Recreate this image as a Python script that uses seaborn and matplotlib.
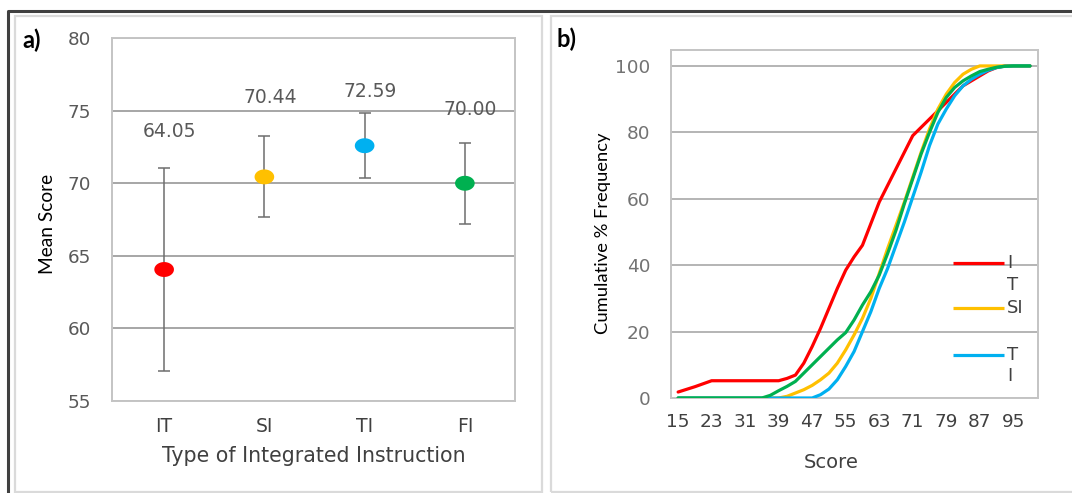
import numpy as np
import pandas as pd
import matplotlib
matplotlib.use("Agg")
import matplotlib.pyplot as plt
from matplotlib.lines import Line2D
from matplotlib.patches import Rectangle
from matplotlib.path import Path
import seaborn as sns

# ---- Panel a: mean score by type of integrated instruction ----
instruction_types = ["IT", "SI", "TI", "FI"]
mean_scores = [64.05, 70.44, 72.59, 70.00]
score_errors = [7.0, 2.8, 2.25, 2.8]
group_colors = ["#FF0000", "#FFC000", "#00B0F0", "#00B050"]

# ---- Panel b: cumulative % frequency of scores ----
scores = list(range(15, 100, 2))
cum_it = [1.8, 2.6, 3.4, 4.3, 5.2, 5.2, 5.2, 5.2, 5.2, 5.2, 5.2, 5.2, 5.2,
          5.9, 6.9, 10.5, 15.5, 21, 27, 33, 38.5, 42.5, 46, 52.5, 59, 64,
          69, 74, 79, 81.5, 84, 86.5, 89, 91.5, 94, 95.5, 97, 98.5, 99.5,
          100, 100, 100, 100]
cum_si = [0] * 13 + [0.5, 1.5, 2.5, 3.8, 5.5, 7.5, 10.5, 14.5, 19, 24, 30,
                     37.5, 45, 52, 59, 66.5, 74, 81, 87, 91.5, 95, 97.5, 99] + [100] * 7
cum_ti = [0] * 17 + [1, 2.7, 5.5, 9.5, 14, 20, 26, 33, 39, 46, 53, 60.5, 68,
                     76, 82.5, 87, 91, 94, 96, 97.5, 98.7, 99.5, 99.9] + [100] * 3
cum_fi = [0] * 11 + [0.8, 2.2, 3.5, 5, 7.5, 10, 12.5, 15, 17.5, 19.7, 23.5, 28,
                     32, 37, 43.5, 50.5, 58.5, 66, 73.5, 80, 86, 90.5, 93.5, 95.5,
                     97, 98.3, 99, 99.6, 99.9] + [100] * 3
score_ticks = list(range(15, 96, 8))

sns.set_theme(style="white")
plt.rcParams["font.family"] = ["DejaVu Sans"]

W, H = 1072, 493
fig = plt.figure(figsize=(W / 100, H / 100), dpi=100)
fig.patch.set_facecolor("white")


def fx(px):
    return px / W


def fy(py):
    return 1 - py / H


# panel frames and the outer border
fig.add_artist(Rectangle((fx(15), fy(492)), fx(542) - fx(15), fy(16) - fy(492),
                         transform=fig.transFigure, fill=False,
                         edgecolor="#DADADA", lw=1.6))
fig.add_artist(Rectangle((fx(551), fy(492)), fx(1085) - fx(551), fy(16) - fy(492),
                         transform=fig.transFigure, fill=False,
                         edgecolor="#DADADA", lw=1.6))
fig.add_artist(Line2D([fx(8), fx(8), 1.0], [0, fy(11), fy(11)],
                      transform=fig.transFigure, color="#404040", lw=2.2))

# ================= Panel a =================
ax1 = fig.add_axes([fx(112), fy(400.7), (515 - 112) / W, (400.7 - 38.3) / H])
ax1.set_facecolor("white")
ax1.errorbar(instruction_types, mean_scores, yerr=score_errors, fmt="none",
             ecolor="#6E6E6E", elinewidth=1.1, capsize=4.2, capthick=1.1, zorder=2)

theta = np.linspace(0, 2 * np.pi, 64)
oval = Path(np.column_stack([np.cos(theta), 0.76 * np.sin(theta)]), closed=True)
sns.scatterplot(x=instruction_types, y=mean_scores, hue=instruction_types,
                palette=group_colors, marker=oval, s=200, linewidth=0,
                legend=False, ax=ax1, zorder=3)

label_heights = [73.6, 75.9, 76.3, 75.1]
for i, (m, h) in enumerate(zip(mean_scores, label_heights)):
    ax1.text(i + 0.055, h, f"{m:.2f}", ha="center", va="center",
             fontsize=13.5, color="#595959")

ax1.set_xlim(-0.52, 3.5)
ax1.set_ylim(55, 80)
ax1.set_yticks(range(55, 81, 5))
ax1.yaxis.grid(True, color="#8E8E8E", lw=1.1)
ax1.xaxis.grid(False)
ax1.set_axisbelow(True)
for s in ax1.spines.values():
    s.set_color("#C4C4C4")
    s.set_linewidth(1.4)
ax1.tick_params(axis="y", length=0, pad=15, labelsize=13.2, labelcolor="#595959")
ax1.tick_params(axis="x", length=0, pad=12, labelsize=13.5, labelcolor="#404040")
ax1.set_xlabel("Type of Integrated Instruction", fontsize=14.8, color="#404040")
ax1.xaxis.set_label_coords(0.5, -0.153)
ax1.get_xaxis().label.set_va("center")
ax1.set_ylabel("Mean Score", fontsize=13.8, color="black", family="Lato")
ax1.yaxis.set_label_coords(-0.159, 0.488)
ax1.get_yaxis().label.set_va("center")

fig.text(fx(22), fy(40), "a)", fontsize=17, fontweight="bold", family="Lato",
         ha="left", va="center", color="black")

# ================= Panel b =================
ax2 = fig.add_axes([fx(671), fy(398), (1038 - 671) / W, (398 - 50) / H])
ax2.set_facecolor("white")

curves = pd.DataFrame({
    "Score": scores * 4,
    "Cumulative": cum_it + cum_si + cum_ti + cum_fi,
    "Group": (["IT"] * len(scores) + ["SI"] * len(scores)
              + ["TI"] * len(scores) + ["FI"] * len(scores)),
})
sns.lineplot(data=curves, x="Score", y="Cumulative", hue="Group",
             hue_order=instruction_types, palette=group_colors,
             linewidth=2.3, legend=False, ax=ax2, zorder=3)

ax2.set_xlim(13.3, 100.9)
ax2.set_ylim(0, 104.8)
ax2.set_xticks(score_ticks)
ax2.set_yticks(range(0, 101, 20))
ax2.yaxis.grid(True, color="#A0A0A0", lw=1.1)
ax2.xaxis.grid(False)
ax2.set_axisbelow(True)
for s in ax2.spines.values():
    s.set_color("#C4C4C4")
    s.set_linewidth(1.4)
ax2.tick_params(axis="y", length=0, pad=15, labelsize=13.3, labelcolor="#737373")
ax2.tick_params(axis="x", length=0, pad=11, labelsize=13.3, labelcolor="#404040")
ax2.set_xlabel("Score", fontsize=14, color="#404040")
ax2.xaxis.set_label_coords(0.436, -0.184)
ax2.get_xaxis().label.set_va("center")
ax2.set_ylabel("Cumulative % Frequency", fontsize=13.2, color="black", family="Lato")
ax2.yaxis.set_label_coords(-0.185, 0.474)
ax2.get_yaxis().label.set_va("center")

# legend with wrapped entry names
legend_rows = [("#FF0000", 0.388, ["I", "T"]),
               ("#FFC000", 0.259, ["SI"]),
               ("#00B0F0", 0.124, ["T", "I"])]
for color, yy, parts in legend_rows:
    ax2.plot([0.768, 0.907], [yy, yy], color=color, lw=2.3,
             transform=ax2.transAxes, zorder=4, solid_capstyle="butt")
    for k, part in enumerate(parts):
        ax2.text(0.916, yy - k * 0.062, part, transform=ax2.transAxes,
                 ha="left", va="center", fontsize=13, color="#404040", zorder=4)

fig.text(fx(557), fy(39), "b)", fontsize=17, fontweight="bold", family="Lato",
         ha="left", va="center", color="black")

fig.savefig("out.png", dpi=100, facecolor="white")
